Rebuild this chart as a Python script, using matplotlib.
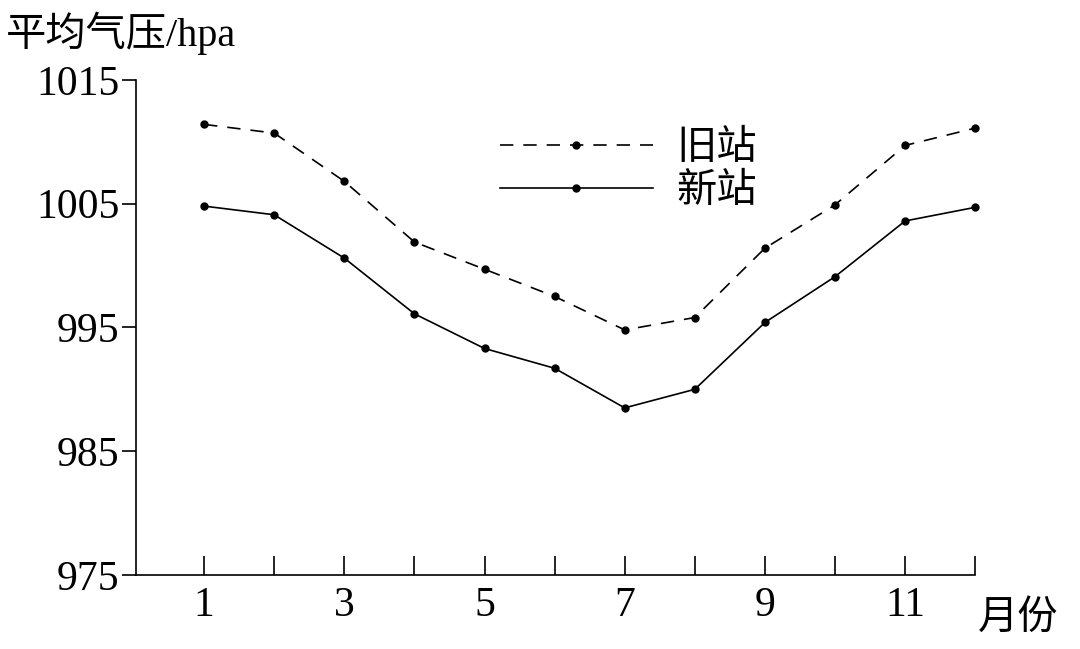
import matplotlib
matplotlib.use("Agg")
import matplotlib.pyplot as plt

plt.rcParams['font.family'] = ['Liberation Serif', 'Noto Sans CJK SC']

months = list(range(1, 13))
old_station = [1011.4, 1010.7, 1006.8, 1001.9, 999.7, 997.5, 994.8, 995.8, 1001.4, 1004.9, 1009.7, 1011.1]
new_station = [1004.8, 1004.1, 1000.6, 996.1, 993.3, 991.7, 988.5, 990.0, 995.4, 999.1, 1003.6, 1004.7]
xticks = [1, 3, 5, 7, 9, 11]
yticks = [975, 985, 995, 1005, 1015]

fig = plt.figure(figsize=(10.8, 6.49), dpi=100)
ax = fig.add_axes([0.126, 0.114, 0.777, 0.763])
ax.plot(months, old_station, 'k--', marker='o', ms=5, lw=1.2, dashes=(8, 6), label='旧站', clip_on=False)
ax.plot(months, new_station, 'k-', marker='o', ms=5, lw=1.2, label='新站', clip_on=False)
ax.set_xlim(0.03, 12)
ax.set_ylim(975, 1015)
ax.set_xticks(xticks)
ax.set_yticks(yticks)
ax.spines['top'].set_visible(False)
ax.spines['right'].set_visible(False)
ax.tick_params(axis='x', direction='in', length=14, labelsize=30, pad=8, width=1.2)
ax.tick_params(axis='y', direction='out', length=10, labelsize=30, pad=2, width=1.2)
ax.set_xticks(months, minor=True)
ax.tick_params(axis='x', which='minor', direction='in', length=14, width=1.2)
for s in ax.spines.values():
    s.set_linewidth(1.2)
fig.text(0.005, 0.915, '平均气压/hpa', fontsize=29, ha='left', va='bottom')
fig.text(0.905, 0.045, '月份', fontsize=29, ha='left', va='center')
ax.legend(loc='upper left', bbox_to_anchor=(0.39, 0.97), frameon=False, fontsize=29,
          handlelength=3.8, handletextpad=0.6, labelspacing=0.15)
fig.savefig('out.png', dpi=100)
